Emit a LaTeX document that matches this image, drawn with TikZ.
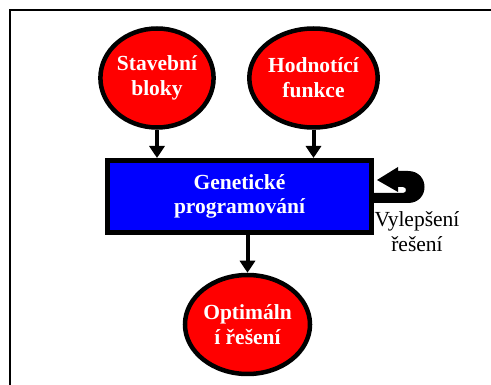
\documentclass[tikz,border=0pt]{standalone}
\usepackage{fontspec}
\setmainfont{Liberation Serif}
\usetikzlibrary{shapes.geometric,arrows.meta}
\begin{document}
\begin{tikzpicture}[x=1pt,y=-1pt,
  source/.style={ellipse, draw=black, fill=red, line width=4.5pt,
    minimum width=111pt, minimum height=99pt, inner sep=0pt,
    text=white, font=\fontsize{21.5}{25}\selectfont\bfseries, align=center},
  process/.style={rectangle, draw=black, fill=blue, line width=5pt,
    minimum width=264pt, minimum height=72pt, inner sep=0pt,
    text=white, font=\fontsize{21.5}{24}\selectfont\bfseries, align=center},
  flow/.style={line width=4pt, -{Triangle[width=15pt,length=12pt]}},
  note/.style={font=\fontsize{21.5}{25}\selectfont, align=center, inner sep=0pt}]
\useasboundingbox (0,0) rectangle (491,385);
% frame: only its left and top sides fall inside the page
\draw[line width=2pt, line cap=rect] (10,385) -- (10,10) -- (491,10);

% inputs, process and result
\node[source] (blocks) at (157,78) {Stavební\\bloky};
\node[source] (fitness) at (313.5,78) {Hodnotící\\funkce};
\node[process] (gp) at (239.5,196.5) {Genetické\\programování};
\node[source] (best) at (247.5,324.5) {Optimáln\\í řešení};

% flows
\draw[flow] (blocks.south) -- (blocks.south |- gp.north);
\draw[flow] (fitness.south) -- (fitness.south |- gp.north);
\draw[flow] (gp.south -| best.north) -- (best.north);

% feedback u-turn arrow on the right of the process box
\fill[black] (372,193) -- (403,193) .. controls (407,193) and (407,187) .. (403,187)
  -- (398,187) -- (398,192) -- (377,180) -- (398,167) -- (398,171) -- (408,171)
  .. controls (430,171) and (430,203) .. (408,203) -- (372,203) -- cycle;
\node[note] (improve) at (417,232) {Vylepšení\\řešení};
\end{tikzpicture}
\end{document}
